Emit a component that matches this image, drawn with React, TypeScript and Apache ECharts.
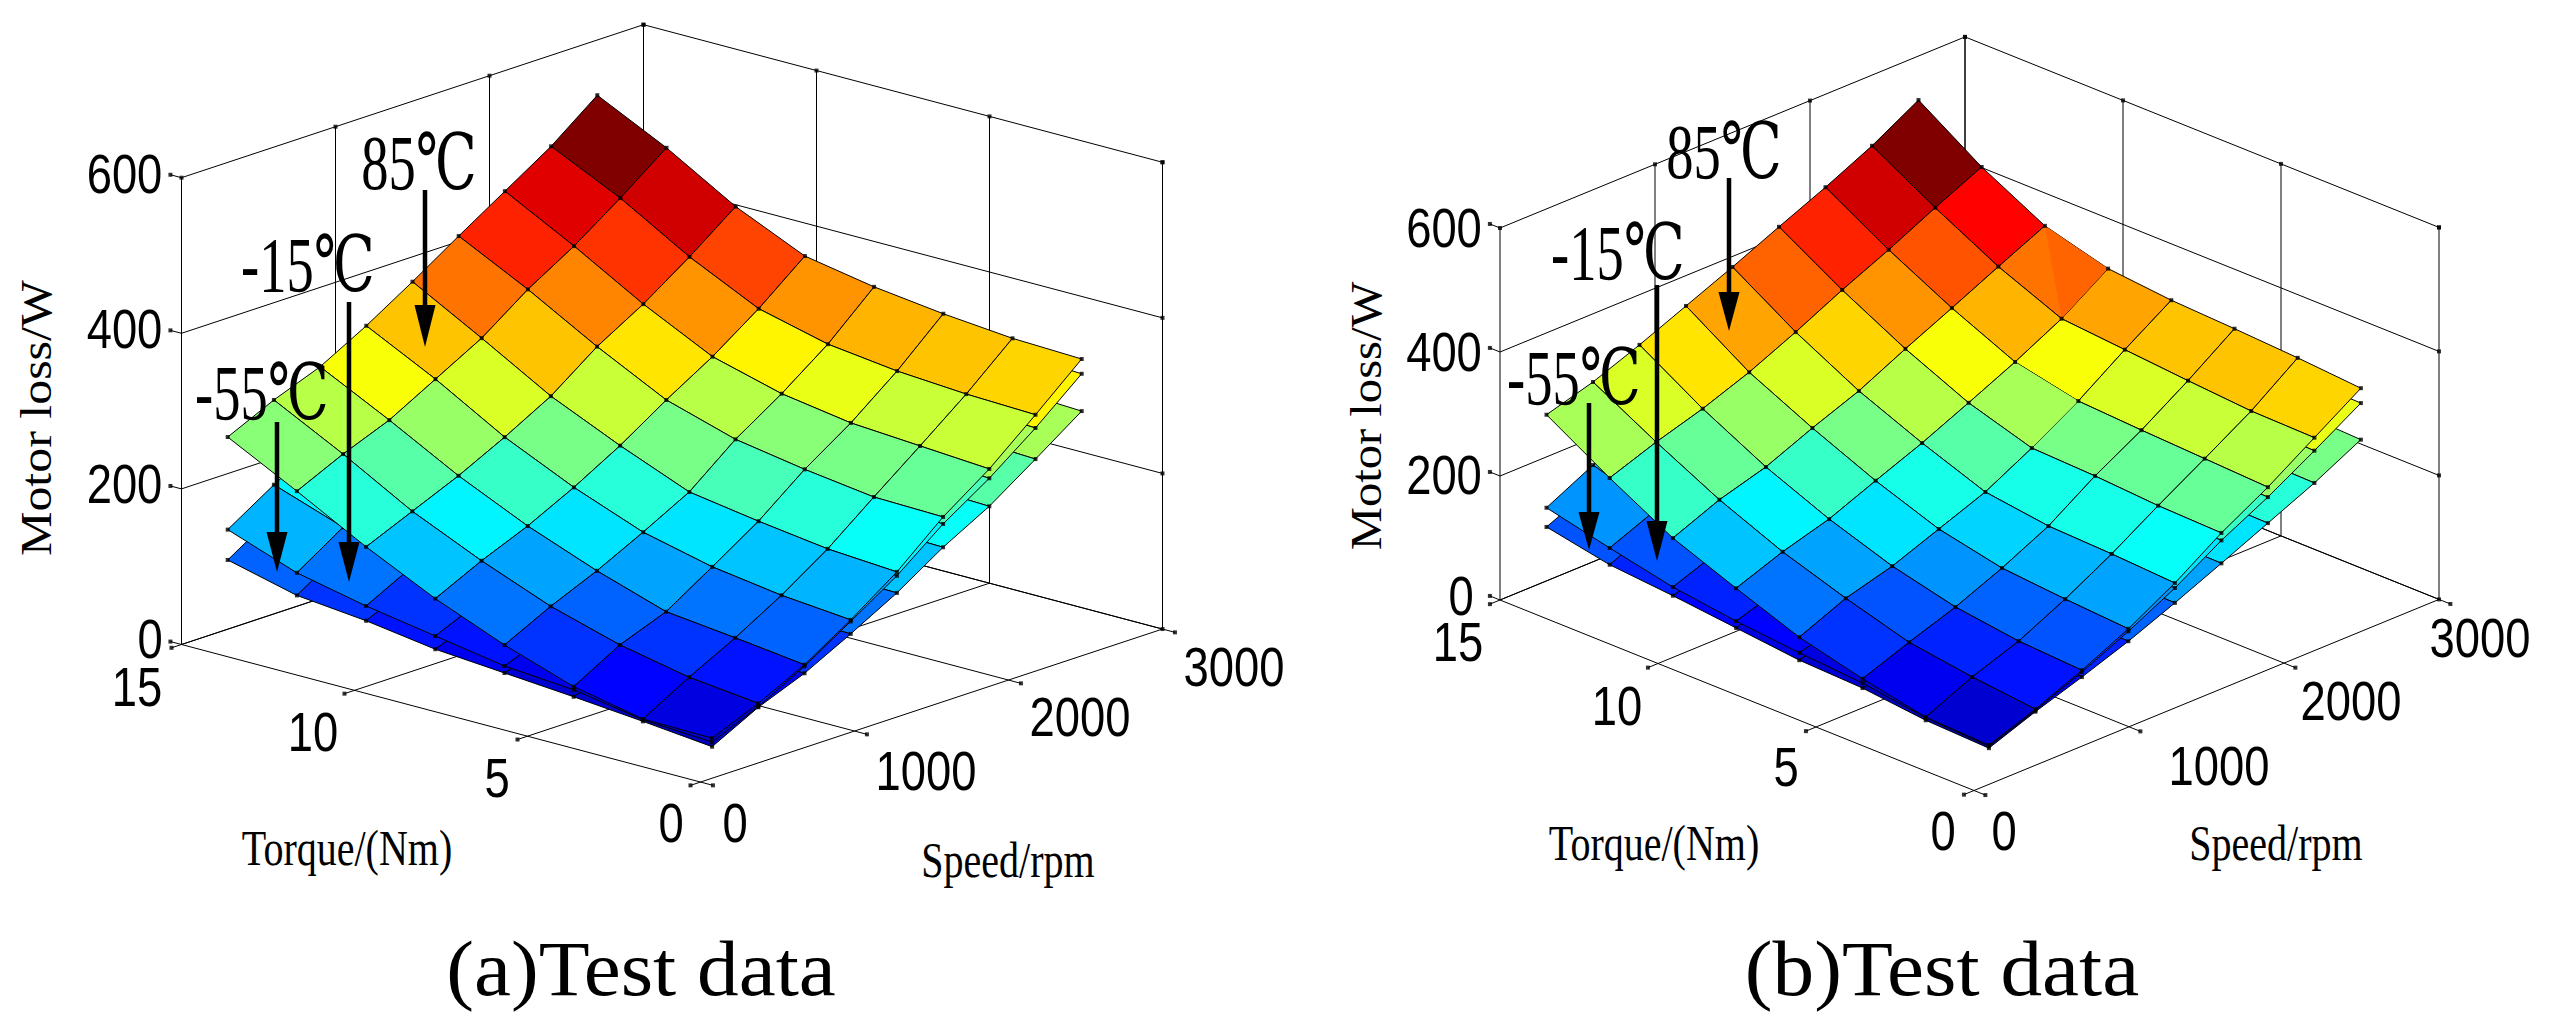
import React, { useEffect, useRef } from "react";
import * as echarts from "echarts";

// ---------- axes ----------
const torqueTicks = [0, 5, 10, 15];
const speedTicks = [0, 1000, 2000, 3000];
const lossTicks = [0, 200, 400, 600];
const torqueNodes = [15, 13, 11, 9, 7, 5, 3, 1];
const speedNodes = [300, 600, 900, 1200, 1500, 1800, 2100, 2400, 2700];

// ---------- values: rows = speedNodes, columns = torqueNodes (W) ----------
const lossA85 = [
  [247, 201, 153, 110, 74, 44, 26, 25],
  [275, 229, 179, 139, 104, 78, 60, 50],
  [298, 253, 205, 164, 130, 101, 91, 80],
  [331, 286, 235, 194, 160, 139, 126, 118],
  [368, 319, 268, 228, 192, 178, 166, 160],
  [407, 362, 312, 267, 240, 225, 213, 211],
  [445, 398, 347, 303, 279, 265, 259, 253],
  [483, 440, 388, 345, 323, 312, 306, 303],
  [529, 485, 433, 393, 377, 366, 358, 355],
];
const lossAm15 = [
  [128, 96, 77, 62, 47, 40, 25, 20],
  [166, 135, 108, 88, 70, 60, 52, 46],
  [200, 168, 140, 118, 100, 90, 84, 78],
  [240, 205, 175, 152, 136, 126, 120, 116],
  [285, 245, 215, 192, 175, 165, 159, 155],
  [330, 290, 260, 235, 220, 211, 206, 202],
  [375, 335, 305, 280, 262, 252, 246, 241],
  [425, 385, 350, 325, 308, 297, 290, 286],
  [480, 440, 400, 372, 355, 345, 340, 336],
];
const lossAm55 = [
  [89, 67, 58, 45, 38, 31, 23, 14],
  [127, 105, 85, 68, 58, 52, 48, 45],
  [160, 135, 112, 95, 82, 75, 71, 69],
  [195, 168, 145, 128, 112, 106, 102, 100],
  [235, 205, 180, 162, 148, 140, 135, 133],
  [275, 245, 218, 200, 186, 178, 174, 172],
  [320, 285, 260, 240, 225, 215, 208, 205],
  [365, 330, 300, 280, 265, 255, 250, 246],
  [415, 375, 345, 325, 310, 300, 292, 288],
];
const lossB85 = [
  [268, 207, 151, 111, 73, 47, 26, 22],
  [290, 234, 182, 139, 105, 75, 60, 49],
  [319, 257, 204, 161, 126, 101, 87, 81],
  [351, 285, 236, 192, 155, 133, 124, 117],
  [383, 319, 265, 222, 184, 170, 166, 160],
  [417, 356, 302, 256, 224, 220, 213, 210],
  [450, 390, 337, 291, 269, 263, 258, 253],
  [486, 427, 373, 330, 321, 312, 304, 302],
  [529, 462, 408, 380, 370, 365, 359, 351],
];
const lossBm15 = [
  [118, 94, 72, 58, 48, 40, 25, 20],
  [156, 125, 100, 82, 68, 58, 52, 47],
  [185, 155, 130, 110, 95, 85, 80, 78],
  [225, 190, 162, 140, 125, 118, 114, 113],
  [270, 230, 200, 178, 165, 157, 153, 152],
  [315, 272, 240, 220, 208, 202, 199, 198],
  [360, 315, 285, 265, 250, 243, 239, 237],
  [410, 360, 330, 310, 295, 287, 283, 281],
  [465, 410, 375, 350, 338, 332, 329, 327],
];
const lossBm55 = [
  [87, 67, 58, 47, 36, 32, 21, 17],
  [120, 100, 82, 68, 58, 52, 48, 45],
  [152, 130, 110, 93, 82, 75, 72, 70],
  [190, 162, 140, 122, 110, 103, 99, 97],
  [228, 198, 172, 155, 142, 134, 130, 128],
  [268, 235, 210, 192, 178, 168, 163, 161],
  [310, 275, 248, 228, 212, 202, 197, 195],
  [355, 315, 285, 262, 245, 236, 231, 229],
  [400, 360, 325, 300, 285, 277, 272, 268],
];
const tempNames = ["-55℃", "-15℃", "85℃"];

// ---------- layout ----------
type Panel = any;
const panelA: Panel = {
  o: [181.5, 644.5], t: [34.6, 9.17], s: [0.154, -0.051], z: 0.778,
  surfaces: [lossAm55, lossAm15, lossA85], base: 10,
  caption: "(a)Test data", captionAt: [641, 968],
  lossAt: [[150, 638.5], [124.5, 483.5], [124.5, 328.5], [124.5, 173.5]],
  torqueAt: [[671, 822.5], [497, 777.5], [313, 731.5], [137, 686.5]],
  speedAt: [[735, 822.5], [926, 770.5], [1080, 716.5], [1234, 666.5]],
  motorAt: [36, 418], motorScale: 1.11, torqueTitleAt: [347, 848], speedTitleAt: [1008, 860],
  tempAt: [[262, 393], [308, 265], [419, 163]],
  arrows: [[277, 422, 532, 572], [349, 302, 542, 582], [425, 190, 305, 347]],
  wedges: [],
};
const panelB: Panel = {
  o: [1500, 600], t: [31.6, 12.7], s: [0.155, -0.0637], z: 0.62,
  surfaces: [lossBm55, lossBm15, lossB85], base: 30,
  caption: "(b)Test data", captionAt: [1942, 968],
  lossAt: [[1461, 595.5], [1444, 474.5], [1444, 351.5], [1444, 228]],
  torqueAt: [[1943, 830.5], [1786, 766.5], [1617, 705.5], [1458, 641.5]],
  speedAt: [[2004, 830.5], [2219, 765.5], [2351, 700.5], [2480, 637.5]],
  motorAt: [1366, 416], motorScale: 1.08, torqueTitleAt: [1654, 843], speedTitleAt: [2276, 843],
  tempAt: [[1574, 378], [1618, 253], [1724, 152]],
  arrows: [[1589, 403, 512, 550], [1657, 285, 521, 561], [1729, 178, 292, 331]],
  wedges: [
    { nodes: [[8, 2], [7, 3], [8, 3]], fill: "#ff6400" },
    { nodes: [[6, 3], [5, 4], [6, 4]], fill: "#a8ff57" },
  ],
};

const project = (p: Panel, t: number, s: number, z: number) => [
  p.o[0] + (15 - t) * p.t[0] + s * p.s[0],
  p.o[1] + (15 - t) * p.t[1] + s * p.s[1] - z * p.z,
];

const clamp01 = (v: number) => Math.max(0, Math.min(1, v));
const jet = (v0: number) => {
  const v = Math.round(clamp01(v0) * 63) / 63;
  const r = clamp01(Math.min(4 * v - 1.5, -4 * v + 4.5));
  const g = clamp01(Math.min(4 * v - 0.5, -4 * v + 3.5));
  const b = clamp01(Math.min(4 * v + 0.5, -4 * v + 2.5));
  return `rgb(${Math.round(r * 255)},${Math.round(g * 255)},${Math.round(b * 255)})`;
};

function boxLines() {
  const rows: number[][] = [];
  const sMax = speedTicks[3], zMax = lossTicks[3];
  torqueTicks.forEach((t) => {
    rows.push([t, -65, 0, t, sMax, 0]);
    rows.push([t, sMax, 0, t, sMax, zMax]);
  });
  speedTicks.forEach((s) => {
    rows.push([-0.36, s, 0, 15, s, 0]);
    rows.push([15, s, 0, 15, s, zMax]);
  });
  lossTicks.forEach((z) => {
    rows.push([15.32, 0, z, 15, 0, z]);
    rows.push([15, 0, z, 15, sMax, z]);
    rows.push([15, sMax, z, 0, sMax, z]);
  });
  return rows;
}

function tickEnds(p: Panel) {
  const pts: number[][] = [];
  torqueTicks.forEach((t) => pts.push(project(p, t, -65, 0)));
  speedTicks.forEach((s) => pts.push(project(p, -0.36, s, 0)));
  lossTicks.forEach((z) => pts.push(project(p, 15.32, 0, z)));
  torqueTicks.forEach((t) => pts.push(project(p, t, speedTicks[3], lossTicks[3])));
  speedTicks.forEach((s) => pts.push(project(p, 15, s, lossTicks[3])));
  lossTicks.forEach((z) => pts.push(project(p, 0, speedTicks[3], z)));
  return pts;
}

function panelSeries(p: Panel) {
  const all = p.surfaces.flat(2) as number[];
  const min = Math.min(...all), max = Math.max(...all);
  const series: any[] = [];
  const lines = boxLines();
  series.push({
    type: "custom", coordinateSystem: "cartesian2d", silent: true, clip: false, z: p.base, data: lines,
    renderItem: (_: any, api: any) => {
      const a = api.coord(project(p, api.value(0), api.value(1), api.value(2)));
      const b = api.coord(project(p, api.value(3), api.value(4), api.value(5)));
      return { type: "line", shape: { x1: a[0], y1: a[1], x2: b[0], y2: b[1] }, style: { stroke: "#000", lineWidth: 1 } };
    },
  });
  series.push({
    type: "scatter", silent: true, z: p.base + 1, symbol: "rect", symbolSize: 4, data: tickEnds(p),
    itemStyle: { color: "#000" },
  });
  p.surfaces.forEach((m: number[][], k: number) => {
    const cells: number[][] = [];
    for (let i = speedNodes.length - 2; i >= 0; i--) {
      for (let j = 0; j < torqueNodes.length - 1; j++) cells.push([i, j]);
    }
    series.push({
      type: "custom", coordinateSystem: "cartesian2d", silent: true, clip: false, z: p.base + 2 + k * 2,
      name: tempNames[k], data: cells,
      renderItem: (_: any, api: any) => {
        const i = api.value(0), j = api.value(1);
        const points = [[i, j], [i + 1, j], [i + 1, j + 1], [i, j + 1]].map(([a, b]) =>
          api.coord(project(p, torqueNodes[b], speedNodes[a], m[a][b])));
        return {
          type: "polygon", shape: { points },
          style: { fill: jet((m[i + 1][j] - min) / (max - min)), stroke: "#000", lineWidth: 1 },
        };
      },
    });
    const nodes: number[][] = [];
    m.forEach((row, a) => row.forEach((v, b) => nodes.push(project(p, torqueNodes[b], speedNodes[a], v))));
    series.push({
      type: "scatter", silent: true, z: p.base + 3 + k * 2, symbol: "rect", symbolSize: 4, data: nodes,
      itemStyle: { color: "#000" },
    });
  });
  const top = p.surfaces[2];
  p.wedges.forEach((w: any) => {
    series.push({
      type: "custom", coordinateSystem: "cartesian2d", silent: true, clip: false, z: p.base + 6, data: [[0, 0]],
      renderItem: (_: any, api: any) => ({
        type: "polygon",
        shape: { points: w.nodes.map(([a, b]: number[]) => api.coord(project(p, torqueNodes[b], speedNodes[a], top[a][b]))) },
        style: { fill: w.fill },
      }),
    });
  });
  return series;
}

const SANS = '"Liberation Sans", Arial, sans-serif';
const SERIF = '"Liberation Serif", "DejaVu Serif", serif';

const label = (text: string, at: number[], font: string, sx = 1, rotation = 0) => ({
  type: "text", x: at[0], y: at[1], scaleX: sx, rotation, z: 200,
  style: { text, font, fill: "#000", textAlign: "center", textVerticalAlign: "middle" },
});

function panelGraphics(p: Panel) {
  const out: any[] = [];
  const tickFont = `56px ${SANS}`;
  lossTicks.forEach((v, k) => out.push(label(String(v), p.lossAt[k], tickFont, 0.81)));
  torqueTicks.forEach((v, k) => out.push(label(String(v), p.torqueAt[k], tickFont, 0.81)));
  speedTicks.forEach((v, k) => out.push(label(String(v), p.speedAt[k], tickFont, 0.81)));
  out.push(label("Motor loss/W", p.motorAt, `45px ${SERIF}`, p.motorScale, Math.PI / 2));
  out.push(label("Torque/(Nm)", p.torqueTitleAt, `50px ${SERIF}`, 0.8));
  out.push(label("Speed/rpm", p.speedTitleAt, `50px ${SERIF}`, 0.8));
  out.push(label(p.caption, p.captionAt, `78px ${SERIF}`, 1.068));
  tempNames.forEach((n, k) => out.push(label(n, p.tempAt[k], `78px ${SERIF}`, 0.7)));
  p.arrows.forEach(([x, y0, base, tip]: number[]) => {
    out.push({ type: "line", z: 200, shape: { x1: x, y1: y0, x2: x, y2: base }, style: { stroke: "#000", lineWidth: 4.5 } });
    out.push({ type: "polygon", z: 200, shape: { points: [[x - 10.5, base], [x + 10.5, base], [x, tip]] }, style: { fill: "#000" } });
  });
  return out;
}

export default function App() {
  const ref = useRef<HTMLDivElement>(null);
  useEffect(() => {
    const chart = echarts.init(ref.current!, undefined, { renderer: "svg" });
    chart.setOption({
      animation: false,
      backgroundColor: "#fff",
      grid: { left: 0, right: 0, top: 0, bottom: 0 },
      xAxis: { type: "value", min: 0, max: 2573, show: false },
      yAxis: { type: "value", min: 0, max: 1028, inverse: true, show: false },
      series: [...panelSeries(panelA), ...panelSeries(panelB)],
      graphic: { elements: [...panelGraphics(panelA), ...panelGraphics(panelB)] },
    });
    return () => chart.dispose();
  }, []);
  return <div ref={ref} style={{ position: "fixed", left: 0, top: 0, width: 2573, height: 1028 }} />;
}
